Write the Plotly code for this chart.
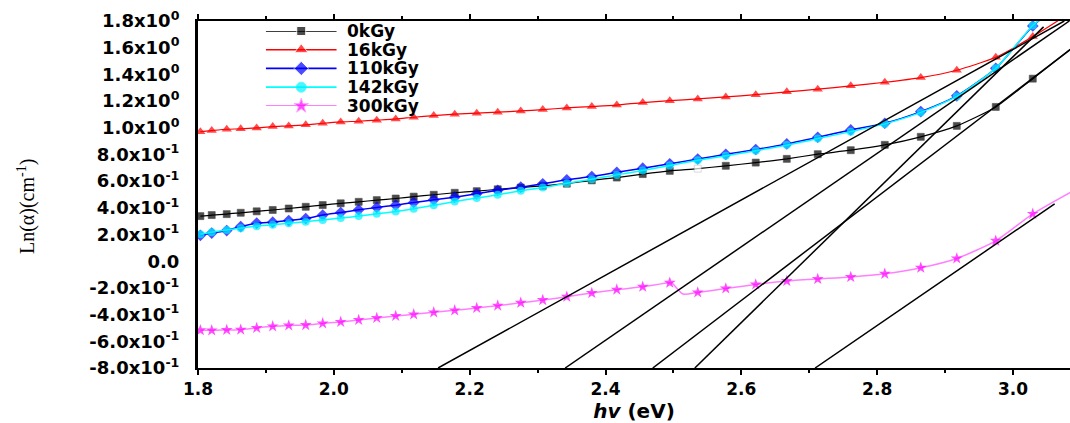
import plotly.graph_objects as go

# ---------------- data ----------------
hv = [1.8035, 1.8202, 1.8423, 1.8629, 1.8864, 1.9100, 1.9336, 1.9586, 1.9836, 2.0101,
      2.0366, 2.0632, 2.0911, 2.1176, 2.1471, 2.1780, 2.2104, 2.2413, 2.2752, 2.3076,
      2.3430, 2.3798, 2.4166, 2.4548, 2.4946, 2.5358, 2.5771, 2.6212, 2.6669, 2.7125,
      2.7611, 2.8112, 2.8642, 2.9172, 2.9746, 3.0291]

y_0kGy = [0.338, 0.346, 0.353, 0.363, 0.374, 0.384, 0.395, 0.408, 0.421, 0.434,
          0.445, 0.458, 0.470, 0.484, 0.498, 0.513, 0.525, 0.539, 0.552, 0.565,
          0.581, 0.606, 0.627, 0.653, 0.677, 0.694, 0.715, 0.739, 0.767, 0.802,
          0.832, 0.872, 0.932, 1.014, 1.156, 1.368]
y_16kGy = [0.971, 0.979, 0.989, 0.992, 0.999, 1.009, 1.014, 1.022, 1.034, 1.044,
           1.049, 1.057, 1.066, 1.079, 1.091, 1.102, 1.109, 1.117, 1.126, 1.136,
           1.149, 1.159, 1.170, 1.189, 1.203, 1.216, 1.231, 1.248, 1.269, 1.289,
           1.314, 1.341, 1.376, 1.431, 1.528, 1.683]
y_110kGy = [0.194, 0.211, 0.230, 0.260, 0.286, 0.293, 0.305, 0.320, 0.346, 0.365,
            0.385, 0.403, 0.420, 0.440, 0.460, 0.480, 0.505, 0.531, 0.555, 0.580,
            0.610, 0.635, 0.666, 0.697, 0.730, 0.766, 0.801, 0.837, 0.879, 0.929,
            0.984, 1.034, 1.121, 1.239, 1.446, 1.763]
y_142kGy = [0.203, 0.218, 0.234, 0.248, 0.263, 0.273, 0.284, 0.296, 0.309, 0.323,
            0.338, 0.355, 0.373, 0.393, 0.419, 0.447, 0.473, 0.498, 0.528, 0.552,
            0.585, 0.615, 0.647, 0.679, 0.718, 0.756, 0.791, 0.828, 0.870, 0.919,
            0.971, 1.029, 1.115, 1.235, 1.446, 1.766]
y_300kGy = [-0.517, -0.518, -0.515, -0.513, -0.500, -0.488, -0.481, -0.478, -0.466, -0.455,
            -0.440, -0.425, -0.410, -0.398, -0.383, -0.368, -0.350, -0.333, -0.311, -0.291,
            -0.266, -0.238, -0.213, -0.191, -0.161, -0.234, -0.204, -0.174, -0.148, -0.133,
            -0.118, -0.094, -0.049, 0.021, 0.153, 0.355]

# continuation of each curve past its last marker (line only)
tail_x = {"0kGy": 3.09, "16kGy": 3.09, "110kGy": 3.05, "142kGy": 3.05, "300kGy": 3.09}
tail_y = {"0kGy": 1.61, "16kGy": 1.88, "110kGy": 1.85, "142kGy": 1.85, "300kGy": 0.532}

# step in the 300 kGy curve between two markers (line only)
dip_x = [2.4983, 2.5141]
dip_y = [-0.165, -0.246]

# straight tangent (extrapolation) lines
fit_x0 = [2.1535, 2.3406, 2.4696, 2.5315, 2.7086]
fit_y0 = [-0.8, -0.8, -0.8, -0.8, -0.8]
fit_x1 = [3.0755, 3.0830, 3.1000, 3.0450, 3.0613]
fit_y1 = [1.800, 1.800, 1.647, 1.756, 0.430]

x_ticks = [1.8, 2.0, 2.2, 2.4, 2.6, 2.8, 3.0]
x_tick_text = ["1.8", "2.0", "2.2", "2.4", "2.6", "2.8", "3.0"]
y_ticks = [1.8, 1.6, 1.4, 1.2, 1.0, 0.8, 0.6, 0.4, 0.2, 0.0, -0.2, -0.4, -0.6, -0.8]
y_tick_text = ["1.8x10<sup>0</sup>", "1.6x10<sup>0</sup>", "1.4x10<sup>0</sup>",
               "1.2x10<sup>0</sup>", "1.0x10<sup>0</sup>", "8.0x10<sup>-1</sup>",
               "6.0x10<sup>-1</sup>", "4.0x10<sup>-1</sup>", "2.0x10<sup>-1</sup>", "0.0",
               "-2.0x10<sup>-1</sup>", "-4.0x10<sup>-1</sup>", "-6.0x10<sup>-1</sup>",
               "-8.0x10<sup>-1</sup>"]

series_names = ["0kGy", "16kGy", "110kGy", "142kGy", "300kGy"]

# ---------------- figure ----------------
FONT = "DejaVu Sans"
fig = go.Figure()

styles = {
    "0kGy": (y_0kGy, "black", "black", "square", 7, 1.2, 9),
    "16kGy": (y_16kGy, "red", "red", "triangle-up", 9, 1.2, 12),
    "110kGy": (y_110kGy, "blue", "blue", "diamond", 9, 1.5, 11),
    "142kGy": (y_142kGy, "#00ffff", "#00f0ff", "circle", 8, 1.5, 10),
    "300kGy": (y_300kGy, "#ff80ff", "#ff00ff", "star", 9, 1.5, 11),
}

for name in series_names:
    ys, lc, mc, sym, ms, lw, _ = styles[name]
    xs = list(hv)
    yv = list(ys)
    sizes = [ms] * len(hv)
    colors = [mc] * len(hv)
    edge = [mc] * len(hv)
    if name == "0kGy":
        colors[25] = "white"
        edge[25] = "#aaaaaa"
    if name == "300kGy":
        xs = xs[:25] + dip_x + xs[25:]
        yv = yv[:25] + dip_y + yv[25:]
        sizes = sizes[:25] + [0, 0] + sizes[25:]
        colors = colors[:25] + [mc, mc] + colors[25:]
        edge = edge[:25] + [mc, mc] + edge[25:]
    xs.append(tail_x[name])
    yv.append(tail_y[name])
    sizes.append(0)
    colors.append(mc)
    edge.append(mc)
    fig.add_trace(go.Scatter(
        x=xs, y=yv, name=name, mode="lines+markers", showlegend=False,
        line=dict(color=lc, width=lw, shape="spline", smoothing=0.6),
        marker=dict(symbol=sym, size=sizes, color=colors,
                    line=dict(width=0.6 if name == "0kGy" else 0, color=edge)),
    ))

for x0, y0, x1, y1 in zip(fit_x0, fit_y0, fit_x1, fit_y1):
    fig.add_trace(go.Scatter(x=[x0, x1], y=[y0, y1], mode="lines",
                             line=dict(color="black", width=1.5),
                             showlegend=False, hoverinfo="skip"))

# legend drawn on its own small axis pair (line sample with marker in the middle)
n = len(series_names)
for i, name in enumerate(series_names):
    ys, lc, mc, sym, ms, lw, lms = styles[name]
    row = n - 1 - i
    fig.add_trace(go.Scatter(
        x=[0, 0.5, 1], y=[row, row, row], xaxis="x2", yaxis="y2",
        mode="lines+markers", showlegend=False, hoverinfo="skip",
        line=dict(color=lc, width=lw + 0.3),
        marker=dict(symbol=sym, size=[0, lms, 0], color=mc),
        cliponaxis=False,
    ))
    fig.add_annotation(
        text="<b>%s</b>" % name, xref="x2 domain", yref="y2",
        x=1.11, y=row, xanchor="left", yanchor="middle", showarrow=False,
        font=dict(family=FONT, size=17, color="black"),
    )

fig.update_layout(
    width=1070, height=423,
    margin=dict(l=198, r=0, t=21, b=55),
    paper_bgcolor="white", plot_bgcolor="rgba(0,0,0,0)",
    font=dict(family=FONT, color="black"),
    xaxis2=dict(domain=[0.0777, 0.1591], range=[0, 1], anchor="y2",
                visible=False, fixedrange=True),
    yaxis2=dict(domain=[0.7553, 0.9712], range=[0, n - 1], anchor="x2",
                visible=False, fixedrange=True),
)

fig.update_layout(xaxis=dict(
    domain=[0, 1], anchor="y",
    range=[1.8, 3.0839], tickvals=x_ticks, ticktext=x_tick_text,
    ticks="outside", ticklen=5, tickwidth=1.5, tickcolor="black",
    minor=dict(dtick=0.1, tick0=1.8, ticks="outside", ticklen=3, tickwidth=1.5, tickcolor="black"),
    showline=True, linecolor="black", linewidth=2, mirror="ticks",
    showgrid=False, zeroline=False,
    tickfont=dict(family=FONT, size=17, color="black", weight="bold"),
    title=dict(text="<b><i>hv</i> (eV)</b>", font=dict(family=FONT, size=20, color="black"),
               standoff=8),
))
fig.update_layout(yaxis=dict(
    domain=[0, 1], anchor="x",
    range=[-0.8, 1.8], tickvals=y_ticks, ticktext=y_tick_text,
    ticks="", showline=True, linecolor="black", linewidth=3, mirror=False,
    showgrid=False, zeroline=False, ticklabelstandoff=12,
    tickfont=dict(family=FONT, size=18, color="black", weight="bold"),
))

fig.add_annotation(
    text="Ln(α)(cm<sup>-1</sup>)", xref="paper", yref="paper",
    x=-0.196, y=0.464, xanchor="center", yanchor="middle", textangle=-90,
    showarrow=False, font=dict(family="Liberation Serif", size=20, color="black"),
)

fig.write_html("out.html")
